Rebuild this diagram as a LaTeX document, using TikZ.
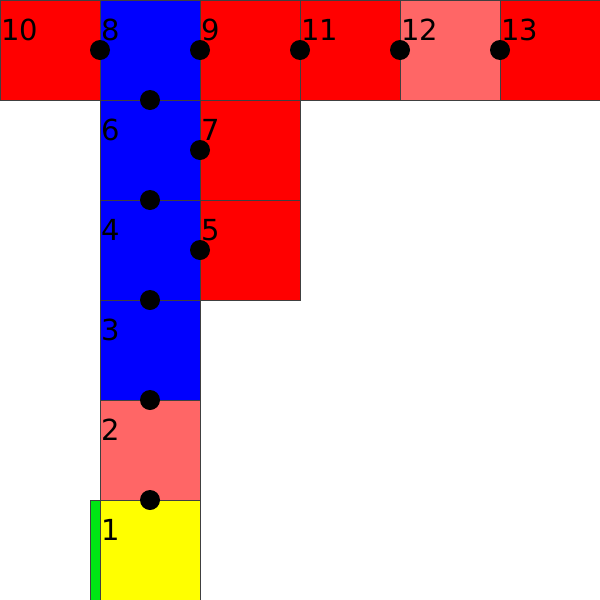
\documentclass[tikz,border=0pt]{standalone}
\usepackage{fontspec}
\setmainfont{DejaVu Sans}
\definecolor{cred}{RGB}{255,0,0}
\definecolor{cblue}{RGB}{0,0,255}
\definecolor{clight}{RGB}{255,102,102}
\definecolor{cyel}{RGB}{255,255,0}
\definecolor{cgreen}{RGB}{0,230,20}
\begin{document}
\begin{tikzpicture}[x=1pt,y=-1pt,
  sq/.style={draw=black!75,line width=0.8pt,minimum size=100pt,inner sep=0pt,anchor=north west},
  lbl/.style={anchor=base west,inner sep=0pt,font=\fontsize{29}{29}\selectfont},
  dot/.style={circle,fill=black,minimum size=20pt,inner sep=0pt}]
\useasboundingbox (0,0) rectangle (600,600);
% squares
\node[sq,fill=cred] (s10) at (0,0) {};
\node[sq,fill=cblue] (s8) at (100,0) {};
\node[sq,fill=cred] (s9) at (200,0) {};
\node[sq,fill=cred] (s11) at (300,0) {};
\node[sq,fill=clight] (s12) at (400,0) {};
\node[sq,fill=cred] (s13) at (500,0) {};
\node[sq,fill=cblue] (s6) at (100,100) {};
\node[sq,fill=cred] (s7) at (200,100) {};
\node[sq,fill=cblue] (s4) at (100,200) {};
\node[sq,fill=cred] (s5) at (200,200) {};
\node[sq,fill=cblue] (s3) at (100,300) {};
\node[sq,fill=clight] (s2) at (100,400) {};
\node[sq,fill=cyel] (s1) at (100,500) {};
\draw[draw=black!75,line width=0.8pt,fill=cgreen] (90,500) rectangle (100,600);
% labels
\node[lbl] (l10) at (1,40) {10};
\node[lbl] (l8) at (101,40) {8};
\node[lbl] (l9) at (201,40) {9};
\node[lbl] (l11) at (301,40) {11};
\node[lbl] (l12) at (401,40) {12};
\node[lbl] (l13) at (501,40) {13};
\node[lbl] (l6) at (101,140) {6};
\node[lbl] (l7) at (201,140) {7};
\node[lbl] (l4) at (101,240) {4};
\node[lbl] (l5) at (201,240) {5};
\node[lbl] (l3) at (101,340) {3};
\node[lbl] (l2) at (101,440) {2};
\node[lbl] (l1) at (101,540) {1};
% dots
\node[dot] (d1) at (100,50) {};
\node[dot] (d2) at (200,50) {};
\node[dot] (d3) at (300,50) {};
\node[dot] (d4) at (400,50) {};
\node[dot] (d5) at (500,50) {};
\node[dot] (d6) at (150,100) {};
\node[dot] (d7) at (200,150) {};
\node[dot] (d8) at (150,200) {};
\node[dot] (d9) at (200,250) {};
\node[dot] (d10) at (150,300) {};
\node[dot] (d11) at (150,400) {};
\node[dot] (d12) at (150,500) {};
\end{tikzpicture}
\end{document}
